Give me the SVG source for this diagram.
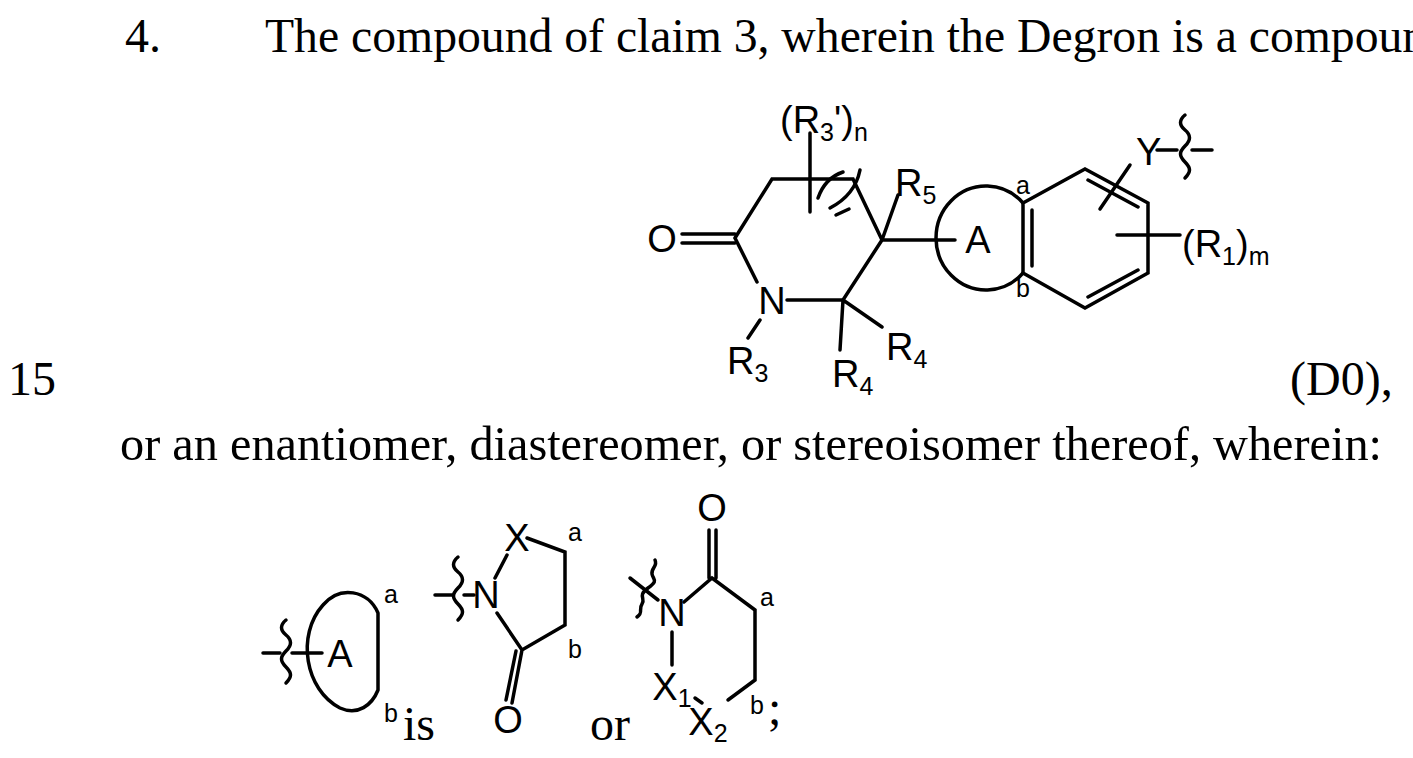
<svg xmlns="http://www.w3.org/2000/svg" width="1413" height="758" viewBox="0 0 1413 758">
<style>
.b{stroke:#000;stroke-width:3.5;fill:none;stroke-linecap:round}
.t{font-family:"Liberation Serif",serif;font-size:48px;fill:#000}
.s{font-family:"Liberation Sans",sans-serif;font-size:38px;fill:#000}
.sm{font-family:"Liberation Sans",sans-serif;font-size:25px;fill:#000}
.sub{font-size:25px}
</style>
<rect width="1413" height="758" fill="#fff"/>
<g id="text">
<text class="t" x="125" y="52">4.</text>
<text class="t" x="265" y="52" textLength="1185" lengthAdjust="spacingAndGlyphs">The compound of claim 3, wherein the Degron is a compound</text>
<text class="t" x="8" y="395">15</text>
<text class="t" x="1290" y="395">(D0),</text>
<text class="t" x="120" y="460" textLength="1262" lengthAdjust="spacingAndGlyphs">or an enantiomer, diastereomer, or stereoisomer thereof, wherein:</text>
<text class="t" x="403" y="740">is</text>
<text class="t" x="590" y="740">or</text>
<text class="t" x="768" y="724">;</text>
</g>
<g id="connectors">
<path class="b" d="M682,234 H735 M682,243 H735"/>
<path class="b" d="M735,238 L772,179 H853 L882,240 M735,238 L757,282 M787,300 H843 L882,240 M882,240 L898,195 M882,240 H955"/>
<path class="b" d="M843,300 L840,350 M843,300 L882,327 M760,320 L748,338"/>
<path class="b" d="M810,133 V212"/>
<path class="b" d="M818,198 Q825,178 843,172 M830,208 Q855,195 860,170 M836,215 L849,209"/>
<path class="b" d="M1023,203 A50,52 0 1 0 1023,273"/>
<path class="b" d="M1023,203 V273 M1032,210 V266 M1023,203 L1085,169 L1148,203 V273 L1085,308 L1023,273 M1088,180 L1138,207 M1088,297 L1138,270"/>
<path class="b" d="M1100,209 L1130,165 M1157,150 H1177 M1192,150 H1212 M1117,235 H1180"/>
<path class="b" d="M1185,115 c-6,5 -6,10 0,15 s6,10 0,16 s-6,10 0,16 s6,10 0,16"/>
<path class="b" d="M263,653 H280 M292,653 H322"/>
<path class="b" d="M286,620 c-6,5 -6,10 0,15 s6,10 0,16 s-6,10 0,16 s6,10 0,16"/>
<path class="b" d="M378,613 C368,590 340,585 323,605 C296,635 305,690 340,708 C358,716 372,705 378,690 V613"/>
<path class="b" d="M435,595 H452 M464,595 H474"/>
<path class="b" d="M458,557 c-6,5 -6,10 0,15 s6,10 0,16 s-6,10 0,16 s6,10 0,16"/>
<path class="b" d="M495,578 L507,555 M527,538 L565,552 V625 L522,650 L497,613 M522,650 L512,703 M516,651 L506,700"/>
<path class="b" d="M709,530 V578 M716,530 V578 M684,602 L712,578 L755,610 V680 L728,700 M695,698 L702,703 M672,632 V665 M630,578 L658,600"/>
<path class="b" d="M655,560 c3,6 -4,8 -3,14 s7,6 -4,14 s-2,10 -6,16 s2,8 -5,13"/>
</g>
<g id="labels">
<text class="s" x="662" y="252" text-anchor="middle">O</text>
<text class="s" x="772" y="314" text-anchor="middle">N</text>
<text class="s" x="780" y="133">(R<tspan class="sub" dy="8">3</tspan><tspan dy="-8">')</tspan><tspan class="sub" dy="8">n</tspan></text>
<text class="s" x="895" y="196">R<tspan class="sub" dy="8">5</tspan></text>
<text class="s" x="978" y="253" text-anchor="middle">A</text>
<text class="sm" x="1016" y="194">a</text>
<text class="sm" x="1016" y="297">b</text>
<text class="s" x="1136" y="165">Y</text>
<text class="s" x="1182" y="257">(R<tspan class="sub" dy="8">1</tspan><tspan dy="-8">)</tspan><tspan class="sub" dy="8">m</tspan></text>
<text class="s" x="727" y="374">R<tspan class="sub" dy="8">3</tspan></text>
<text class="s" x="832" y="387">R<tspan class="sub" dy="8">4</tspan></text>
<text class="s" x="886" y="360">R<tspan class="sub" dy="8">4</tspan></text>
<text class="s" x="340" y="667" text-anchor="middle">A</text>
<text class="sm" x="384" y="603">a</text>
<text class="sm" x="384" y="722">b</text>
<text class="s" x="486" y="608" text-anchor="middle">N</text>
<text class="s" x="517" y="551" text-anchor="middle">X</text>
<text class="s" x="508" y="733" text-anchor="middle">O</text>
<text class="sm" x="568" y="541">a</text>
<text class="sm" x="568" y="658">b</text>
<text class="s" x="712" y="521" text-anchor="middle">O</text>
<text class="s" x="672" y="626" text-anchor="middle">N</text>
<text class="s" x="672" y="700" text-anchor="middle">X<tspan class="sub" dy="7">1</tspan></text>
<text class="s" x="708" y="735" text-anchor="middle">X<tspan class="sub" dy="7">2</tspan></text>
<text class="sm" x="760" y="606">a</text>
<text class="sm" x="750" y="714">b</text>
</g>
</svg>
